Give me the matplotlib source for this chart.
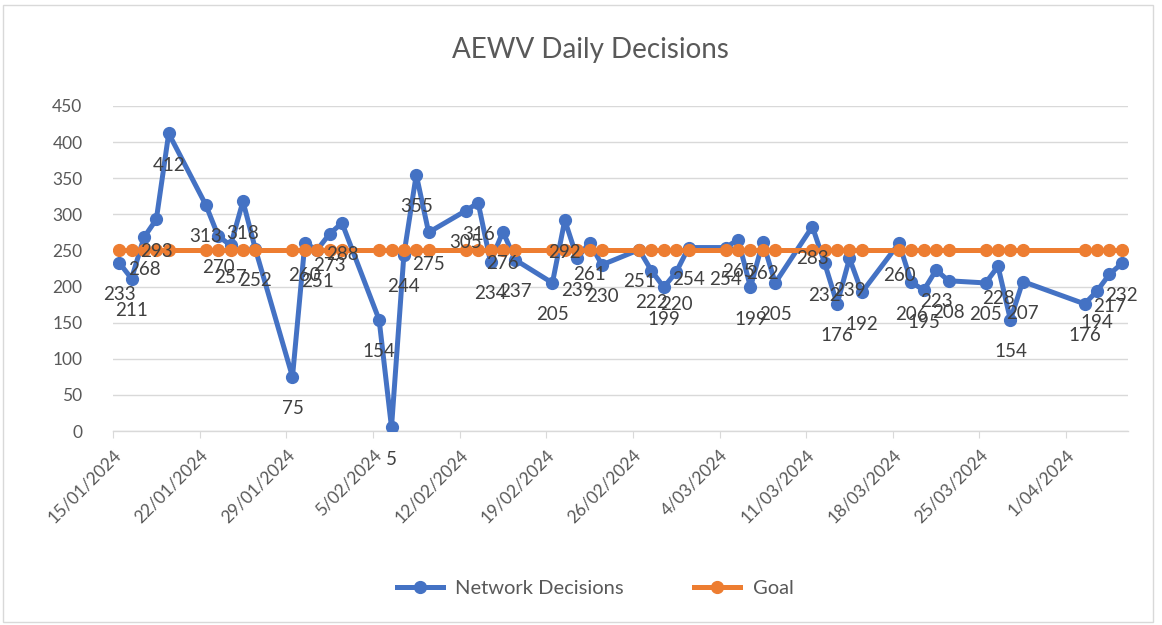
import matplotlib
matplotlib.use("Agg")
import matplotlib.pyplot as plt
from matplotlib.patches import FancyBboxPatch
import datetime as dt

# ---- data ----
dates = [
    "2024-01-15", "2024-01-16", "2024-01-17", "2024-01-18", "2024-01-19",
    "2024-01-22", "2024-01-23", "2024-01-24", "2024-01-25", "2024-01-26",
    "2024-01-29", "2024-01-30", "2024-01-31", "2024-02-01", "2024-02-02",
    "2024-02-05", "2024-02-06", "2024-02-07", "2024-02-08", "2024-02-09",
    "2024-02-12", "2024-02-13", "2024-02-14", "2024-02-15", "2024-02-16",
    "2024-02-19", "2024-02-20", "2024-02-21", "2024-02-22", "2024-02-23",
    "2024-02-26", "2024-02-27", "2024-02-28", "2024-02-29", "2024-03-01",
    "2024-03-04", "2024-03-05", "2024-03-06", "2024-03-07", "2024-03-08",
    "2024-03-11", "2024-03-12", "2024-03-13", "2024-03-14", "2024-03-15",
    "2024-03-18", "2024-03-19", "2024-03-20", "2024-03-21", "2024-03-22",
    "2024-03-25", "2024-03-26", "2024-03-27", "2024-03-28",
    "2024-04-02", "2024-04-03", "2024-04-04", "2024-04-05",
]
network_decisions = [
    233, 211, 268, 293, 412,
    313, 270, 257, 318, 252,
    75, 260, 251, 273, 288,
    154, 5, 244, 355, 275,
    305, 316, 234, 276, 237,
    205, 292, 239, 261, 230,
    251, 222, 199, 220, 254,
    254, 265, 199, 262, 205,
    283, 232, 176, 239, 192,
    260, 206, 195, 223, 208,
    205, 228, 154, 207,
    176, 194, 217, 232,
]
goal = [250] * len(dates)
title = "AEWV Daily Decisions"
series_names = ["Network Decisions", "Goal"]
tick_start = "2024-01-15"
axis_end = "2024-04-06"

BLUE = "#4472C4"
ORANGE = "#ED7D31"
TXT = "#595959"
GRID = "#D9D9D9"

plt.rcParams["font.family"] = ["Lato", "DejaVu Sans"]

d = [dt.datetime.strptime(s, "%Y-%m-%d") + dt.timedelta(hours=12) for s in dates]

fig = plt.figure(figsize=(11.62, 6.25), dpi=100)
ax = fig.add_axes([113 / 1162, 194 / 625, 1015 / 1162, 325 / 625])

ax.plot(d, network_decisions, color=BLUE, lw=3.6, marker="o", ms=8.5,
        label=series_names[0], zorder=3, solid_joinstyle="round")
ax.plot(d, goal, color=ORANGE, lw=3.6, marker="o", ms=8.5,
        label=series_names[1], zorder=4)

for x, v in zip(d, network_decisions):
    ax.annotate(str(v), (x, v), xytext=(0, -23), textcoords="offset points",
                ha="center", va="center", fontsize=13.5, color="#404040", zorder=5)

start = dt.datetime.strptime(tick_start, "%Y-%m-%d")
end = dt.datetime.strptime(axis_end, "%Y-%m-%d")
ax.set_xlim(start, end)
ax.set_ylim(0, 450)
ax.set_yticks(range(0, 451, 50))

ticks = []
t = start
while t <= end:
    ticks.append(t)
    t += dt.timedelta(days=7)
ax.set_xticks(ticks)
ax.set_xticklabels([f"{x.day}/{x.month:02d}/{x.year}" for x in ticks],
                   rotation=45, ha="right", rotation_mode="anchor")

ax.grid(axis="y", color=GRID, lw=1)
ax.set_axisbelow(True)
for s in ["top", "right", "left"]:
    ax.spines[s].set_visible(False)
ax.spines["bottom"].set_color(GRID)
ax.spines["bottom"].set_linewidth(1)
ax.tick_params(axis="y", length=0, pad=22, labelsize=12.5, labelcolor=TXT)
ax.tick_params(axis="x", length=5, color=GRID, pad=6, labelsize=12.5, labelcolor=TXT)

fig.text(590 / 1162, 1 - 50 / 625, title, ha="center", va="center",
         fontsize=20, color=TXT)

fig.legend(loc="center", bbox_to_anchor=(595 / 1162, 1 - 588 / 625), ncol=2,
           frameon=False, fontsize=14.5, handlelength=2.3, handletextpad=0.6,
           columnspacing=3.5, labelcolor=TXT)

fig.patches.append(FancyBboxPatch((3 / 1162, 3 / 625), 1150 / 1162, 617 / 625,
                                  boxstyle="square,pad=0", transform=fig.transFigure,
                                  fill=False, edgecolor=GRID, lw=1))

fig.savefig("out.png", dpi=100)
